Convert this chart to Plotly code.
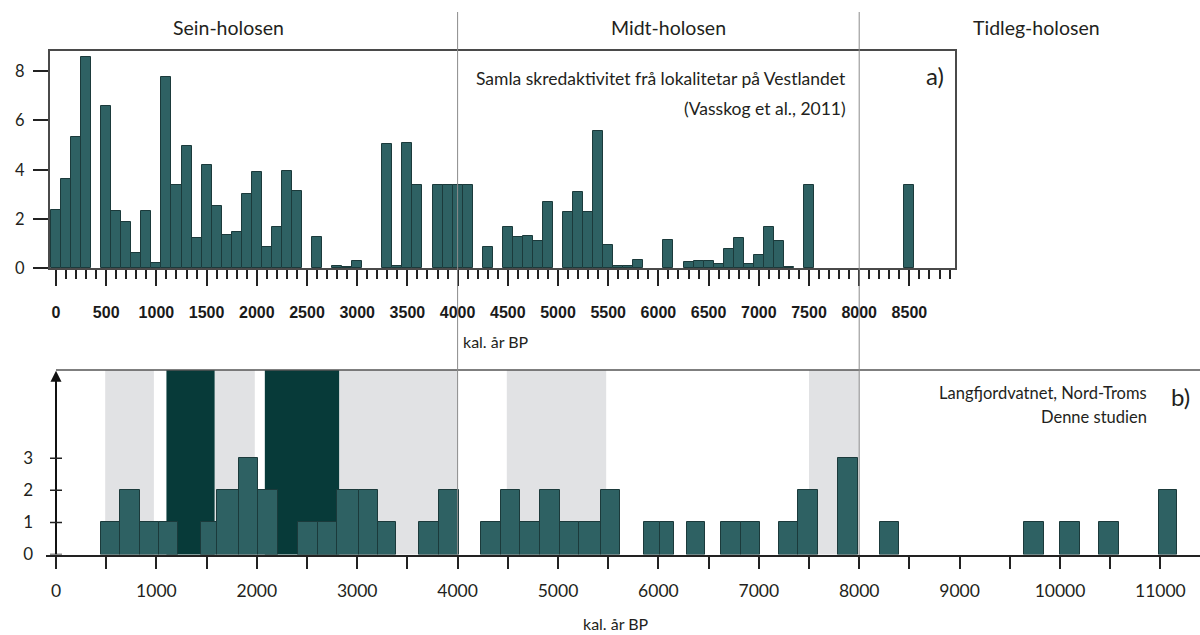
import plotly.graph_objects as go

W, H = 1200, 635


def px(x):
    return x / W


def py(y):
    return 1 - y / H


# ---------------- data ----------------
# Panel a) – 100-year bins (bin centre, kal. år BP) and activity value
top_years = [0, 100, 200, 300, 500, 600, 700, 800, 900, 1000,
             1100, 1200, 1300, 1400, 1500, 1600, 1700, 1800, 1900, 2000,
             2100, 2200, 2300, 2400, 2600, 2800, 2900, 3000, 3300, 3400,
             3500, 3600, 3800, 3900, 4000, 4100, 4300, 4500, 4600, 4700,
             4800, 4900, 5100, 5200, 5300, 5400, 5500, 5600, 5700, 5800,
             6100, 6300, 6400, 6500, 6600, 6700, 6800, 6900, 7000, 7100,
             7200, 7300, 7500, 8500]
top_values = [2.35, 3.61, 5.30, 8.57, 6.59, 2.30, 1.85, 0.62, 2.32, 0.19,
              7.76, 3.38, 4.96, 1.20, 4.18, 2.51, 1.33, 1.48, 3.02, 3.88,
              0.85, 1.68, 3.95, 3.11, 1.25, 0.09, 0.04, 0.30, 5.03, 0.07,
              5.07, 3.38, 3.36, 3.36, 3.36, 3.36, 0.86, 1.68, 1.25, 1.31,
              1.09, 2.67, 2.26, 3.07, 2.26, 5.57, 0.92, 0.07, 0.07, 0.32,
              1.12, 0.24, 0.30, 0.30, 0.15, 0.78, 1.21, 0.15, 0.51, 1.66,
              1.08, 0.04, 3.36, 3.36]
top_bin_width = 100

# Panel b) – Langfjordvatnet events: bin start, bin end, count
bot_start = [450, 640, 835, 1030, 1440, 1605, 1825, 2015, 2415, 2605,
             2795, 3020, 3210, 3620, 3815, 4230, 4430, 4625, 4820, 5015,
             5205, 5430, 5855, 6015, 6285, 6620, 6820, 7205, 7395, 7785,
             8205, 9645, 10000, 10390, 10990]
bot_end = [640, 835, 1030, 1220, 1605, 1825, 2015, 2210, 2605, 2795,
           3020, 3210, 3390, 3815, 4015, 4430, 4625, 4820, 5015, 5205,
           5430, 5620, 6015, 6160, 6460, 6820, 7010, 7395, 7590, 7985,
           8400, 9840, 10200, 10590, 11170]
bot_counts = [1, 2, 1, 1, 1, 2, 3, 2, 1, 1,
              2, 2, 1, 1, 2, 1, 2, 1, 2, 1,
              1, 2, 1, 1, 1, 1, 1, 1, 2, 3,
              1, 1, 1, 1, 2]

# shaded periods in panel b)
light_start = [490, 1580, 2820, 4490, 7500]
light_end = [975, 1980, 4000, 5480, 8000]
dark_start = [1100, 2080]
dark_end = [1580, 2820]

# Holocene subdivisions
period_names = ["Sein-holosen", "Midt-holosen", "Tidleg-holosen"]
period_bounds = [4000, 8000]

top_yticks = [0, 2, 4, 6, 8]
bot_yticks = [0, 1, 2, 3]
bot_xticks = list(range(0, 11500, 500))
bot_xtick_labels = [str(v) if v % 1000 == 0 else "" for v in bot_xticks]

# ---------------- geometry ----------------
X0_PX = 56.0
SCALE = 0.1004  # px per year
top_left_px, top_right_px = 50, 955
top_base_px, top_top_px = 268, 51
top_unit_px = 24.625
bot_left_px = 46
bot_base_px, bot_top_px = 554.5, 370
bot_unit_px = 32.07


def yr(pxv):
    return (pxv - X0_PX) / SCALE


top_xrange = [yr(top_left_px), yr(top_right_px)]
bot_xrange = [yr(bot_left_px), yr(W)]
top_yrange = [0, (top_base_px - top_top_px) / top_unit_px]
bot_yrange = [0, (bot_base_px - bot_top_px) / bot_unit_px]

BAR_FILL = "#2e6163"
BAR_LINE = "#1b3a3b"
TXT = "#231f20"
FONT = "Lato"

fig = go.Figure()

fig.add_trace(go.Bar(
    x=top_years, y=top_values, width=top_bin_width,
    marker=dict(color=BAR_FILL, line=dict(color=BAR_LINE, width=1)),
    xaxis="x", yaxis="y", showlegend=False, hoverinfo="x+y"))

fig.add_trace(go.Bar(
    x=bot_start, y=bot_counts,
    width=[e - s for s, e in zip(bot_start, bot_end)], offset=0,
    marker=dict(color=BAR_FILL, line=dict(color=BAR_LINE, width=1)),
    xaxis="x2", yaxis="y2", showlegend=False, hoverinfo="y"))

shapes = []
for s, e in zip(light_start, light_end):
    shapes.append(dict(type="rect", xref="x2", yref="y2 domain", x0=s, x1=e,
                       y0=0, y1=1, fillcolor="#e1e2e4", line=dict(width=0),
                       layer="below"))
for s, e in zip(dark_start, dark_end):
    shapes.append(dict(type="rect", xref="x2", yref="y2 domain", x0=s, x1=e,
                       y0=0, y1=1, fillcolor="#073a39", line=dict(width=0),
                       layer="below"))
# top border of panel b)
shapes.append(dict(type="line", xref="x2", yref="y2 domain", x0=0,
                   x1=bot_xrange[1], y0=1, y1=1,
                   line=dict(color="#555555", width=1.5)))
# vertical y axis line of panel b)
shapes.append(dict(type="line", xref="x2", yref="y2", x0=0, x1=0,
                   y0=0, y1=bot_yrange[1] - 0.3,
                   line=dict(color="#111111", width=2)))
# crossing tick marks on the y axis of panel b)
for v in bot_yticks:
    shapes.append(dict(type="line", xref="paper", yref="y2",
                       x0=px(50), x1=px(62), y0=v, y1=v,
                       line=dict(color="#222222", width=1.5)))
# period boundaries
for b in period_bounds:
    shapes.append(dict(type="line", xref="x", yref="paper", x0=b, x1=b,
                       y0=py(555), y1=py(12),
                       line=dict(color="#8c8c8c", width=1), layer="above"))

annotations = []
# arrow head on the y axis of panel b)
annotations.append(dict(x=0, y=bot_yrange[1] - 0.02, xref="x2", yref="y2",
                        ax=0, ay=bot_yrange[1] - 1.0, axref="x2", ayref="y2",
                        text="", font=dict(size=1),
                        showarrow=True, arrowhead=2, arrowsize=1.1,
                        arrowwidth=2, arrowcolor="#111111"))

# y tick labels of panel a)
for v in top_yticks:
    annotations.append(dict(x=px(27), y=v, xref="paper", yref="y",
                            text=str(v), showarrow=False, xanchor="right",
                            yanchor="middle",
                            font=dict(family=FONT, size=16.5, color=TXT)))

period_centres_px = [228, 668, 1036]
for name, cx in zip(period_names, period_centres_px):
    annotations.append(dict(x=px(cx), y=py(27), xref="paper", yref="paper",
                            text=name, showarrow=False,
                            font=dict(family=FONT, size=19.5, color=TXT),
                            xanchor="center", yanchor="middle"))

annotations += [
    dict(x=px(848), y=py(78), xref="paper", yref="paper",
         text="Samla skredaktivitet frå lokalitetar på Vestlandet",
         showarrow=False, xanchor="right", yanchor="middle",
         font=dict(family=FONT, size=17.5, color=TXT)),
    dict(x=px(848), y=py(109), xref="paper", yref="paper",
         text="(Vasskog et al., 2011)", showarrow=False, xanchor="right",
         yanchor="middle", font=dict(family=FONT, size=17.5, color=TXT)),
    dict(x=px(946), y=py(75), xref="paper", yref="paper", text="a)",
         showarrow=False, xanchor="right", yanchor="middle",
         font=dict(family=FONT, size=24, color=TXT)),
    dict(x=px(1149), y=py(393), xref="paper", yref="paper",
         text="Langfjordvatnet, Nord-Troms", showarrow=False,
         xanchor="right", yanchor="middle",
         font=dict(family=FONT, size=16.5, color=TXT)),
    dict(x=px(1149), y=py(417), xref="paper", yref="paper",
         text="Denne studien", showarrow=False, xanchor="right",
         yanchor="middle", font=dict(family=FONT, size=16.5, color=TXT)),
    dict(x=px(1192), y=py(396), xref="paper", yref="paper", text="b)",
         showarrow=False, xanchor="right", yanchor="middle",
         font=dict(family=FONT, size=24, color=TXT)),
    dict(x=px(496), y=py(341), xref="paper", yref="paper", text="kal. år BP",
         showarrow=False, xanchor="center", yanchor="middle",
         font=dict(family=FONT, size=16, color=TXT)),
    dict(x=px(616), y=py(623), xref="paper", yref="paper", text="kal. år BP",
         showarrow=False, xanchor="center", yanchor="middle",
         font=dict(family=FONT, size=16, color=TXT)),
]

fig.update_layout(
    width=W, height=H,
    margin=dict(l=0, r=0, t=0, b=0),
    paper_bgcolor="white", plot_bgcolor="rgba(0,0,0,0)",
    bargap=0, showlegend=False,
    shapes=shapes, annotations=annotations,
    xaxis=dict(domain=[px(top_left_px), px(top_right_px)], range=top_xrange,
               anchor="y", showgrid=False, zeroline=False,
               showline=True, linecolor="#4a4a4a", linewidth=1.5,
               mirror=True, ticks="outside", tickmode="linear", tick0=0,
               dtick=500, ticklen=16, tickwidth=2, tickcolor="#222222",
               minor=dict(dtick=100, ticks="outside", ticklen=9,
                          tickwidth=1.5, tickcolor="#222222", showgrid=False),
               tickfont=dict(family="Liberation Sans", size=16, weight="bold",
                             color="#1a1a1a"),
               ticklabelstandoff=13, automargin=False),
    yaxis=dict(domain=[py(top_base_px), py(top_top_px)], range=top_yrange,
               anchor="x", showgrid=False, zeroline=False,
               showline=True, linecolor="#4a4a4a", linewidth=1.5,
               mirror=True, ticks="outside", tickvals=top_yticks,
               ticklen=15, tickwidth=2, tickcolor="#222222",
               showticklabels=False, automargin=False),
    xaxis2=dict(domain=[px(bot_left_px), 1], range=bot_xrange, anchor="y2",
                showgrid=False, zeroline=False, showline=True,
                linecolor="#222222", linewidth=1.5, ticks="outside",
                tickvals=bot_xticks, ticktext=bot_xtick_labels,
                ticklen=13, tickwidth=1.5, tickcolor="#222222",
                tickfont=dict(family=FONT, size=17.5, color=TXT),
                ticklabelstandoff=7, automargin=False),
    yaxis2=dict(domain=[py(bot_base_px), py(bot_top_px)], range=bot_yrange,
                anchor="x2", showgrid=False, zeroline=False, showline=False,
                ticks="", tickvals=bot_yticks,
                tickfont=dict(family=FONT, size=17, color=TXT),
                ticklabelstandoff=12, automargin=False),
)

fig.write_html(
    "out.html",
    config={"displayModeBar": False},
    post_script="document.body.style.margin='0';"
                "document.body.style.overflow='hidden';",
)
